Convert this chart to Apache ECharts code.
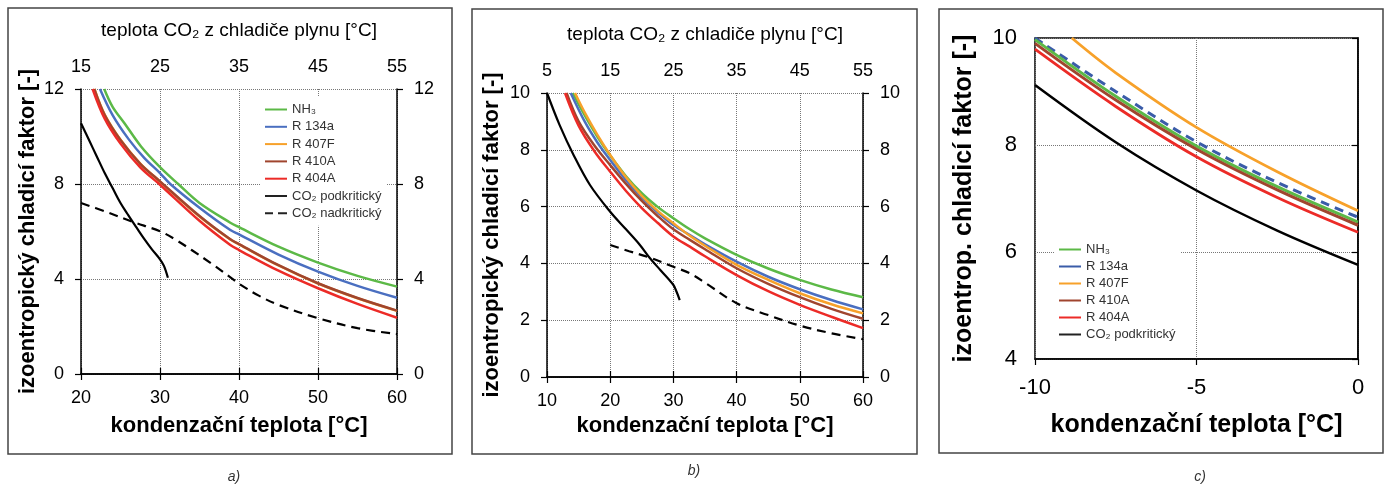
<!DOCTYPE html>
<html><head><meta charset="utf-8">
<script src="https://cdn.jsdelivr.net/npm/echarts@6/dist/echarts.min.js"></script>
<style>html,body{margin:0;padding:0;background:#fff}#c{width:1387px;height:484px}</style>
</head><body><div id="c"></div>
<script>
// ---------- data: panel a (x = kondenzační teplota, dashed on top axis) ----------
const aNH3   = [[22.94,12],[24,11.25],[25.5,10.56],[27.6,9.58],[30,8.71],[32.3,8.0],[35,7.2],[38.9,6.37],[40,6.18],[45,5.36],[50,4.69],[55,4.13],[60,3.68]];
const aR134a = [[22.4,12],[24,10.9],[26,9.9],[28,9.1],[30,8.46],[31.3,8.0],[35,7.0],[38.9,6.06],[40,5.88],[45,5.03],[50,4.31],[55,3.71],[60,3.21]];
const aR407F = [[21.7,12],[23,10.92],[25,9.86],[27.5,8.86],[30,8.1],[35,6.63],[38.9,5.66],[40,5.46],[45,4.57],[50,3.81],[55,3.19],[60,2.66]];
const aR410A = [[21.68,12],[23,10.9],[25,9.85],[27.5,8.85],[30,8.11],[35,6.65],[38.9,5.67],[40,5.47],[45,4.58],[50,3.82],[55,3.2],[60,2.67]];
const aR404A = [[21.47,12],[23,10.75],[25,9.7],[27.5,8.7],[30,7.97],[35,6.45],[38.9,5.43],[40,5.22],[45,4.35],[50,3.61],[55,2.95],[60,2.37]];
const aCO2sub = [[20,10.56],[21,9.86],[22,9.16],[23,8.46],[24,7.83],[25,7.2],[26,6.68],[27,6.18],[28,5.69],[29,5.24],[30,4.83],[30.5,4.55],[31,4.05]];
const aCO2trans = [[15,7.2],[18,6.85],[21.6,6.4],[25,6.01],[27,5.65],[29,5.22],[31.5,4.65],[34,4.05],[35,3.8],[37.5,3.3],[40,2.91],[45,2.35],[50,1.93],[55,1.68]];

// ---------- data: panel b ----------
const bNH3   = [[14.06,10],[16,9.2],[18,8.45],[20,7.8],[22.5,7.07],[25,6.47],[27.5,5.99],[30,5.59],[32.6,5.2],[35,4.88],[40,4.3],[45,3.82],[50,3.42],[55,3.08],[60,2.81]];
const bR134a = [[13.75,10],[16,8.98],[18,8.25],[20,7.64],[22.5,6.93],[25,6.32],[27.5,5.8],[30,5.35],[32.6,5.0],[35,4.67],[40,4.06],[45,3.53],[50,3.09],[55,2.71],[60,2.38]];
const bR407F = [[14.43,10],[16,9.3],[18,8.52],[20,7.82],[22.5,7.03],[25,6.38],[27.5,5.85],[30,5.41],[32.6,4.97],[35,4.62],[40,3.95],[45,3.42],[50,2.95],[55,2.56],[60,2.24]];
const bR410A = [[13.1,10],[15,9.0],[17.5,8.15],[20,7.46],[22.5,6.8],[25,6.2],[27.5,5.67],[30,5.2],[32.6,4.83],[35,4.5],[40,3.83],[45,3.28],[50,2.81],[55,2.4],[60,2.05]];
const bR404A = [[12.85,10],[15,8.85],[17.5,7.95],[20,7.23],[22.5,6.55],[25,5.95],[27.5,5.43],[30,4.95],[32.6,4.59],[35,4.25],[40,3.59],[45,3.02],[50,2.54],[55,2.12],[60,1.72]];
const bCO2sub = [[10,10],[12,8.87],[14.2,7.82],[16.8,6.76],[20,5.82],[22.5,5.2],[24.7,4.65],[26.3,4.18],[28,3.75],[30,3.24],[30.5,3.0],[31,2.71]];
const bCO2trans = [[15,4.65],[18,4.43],[21.3,4.2],[25,3.88],[27.6,3.65],[30.2,3.29],[35,2.6],[40,2.18],[45,1.81],[50,1.54],[55,1.33]];

// ---------- data: panel c ----------
const cNH3   = [[-10,9.97],[-7.5,8.91],[-5,7.98],[-2.5,7.22],[0,6.56]];
const cR134a = [[-10,10.0],[-7.5,9.0],[-5,8.06],[-2.5,7.3],[0,6.65]];
const cR407F = [[-8.86,10],[-7.5,9.35],[-5,8.33],[-2.5,7.5],[0,6.77]];
const cR410A = [[-10,9.9],[-7.5,8.84],[-5,7.92],[-2.5,7.16],[0,6.5]];
const cR404A = [[-10,9.79],[-7.5,8.72],[-5,7.78],[-2.5,7.02],[0,6.37]];
const cCO2sub = [[-10,9.12],[-7.5,8.05],[-5,7.15],[-2.5,6.4],[0,5.76]];

// ---------- labels ----------
const names = ['NH₃','R 134a','R 407F','R 410A','R 404A','CO₂ podkritický','CO₂ nadkritický'];
const xTitle = 'kondenzační teplota [°C]';
const topTitle = 'teplota CO₂ z chladiče plynu [°C]';
const yTitleAB = 'izoentropický chladicí faktor [-]';
const yTitleC = 'izoentrop. chladicí faktor [-]';

const COL = {nh3:'#5cb947', r134:'#4a6fc0', r407:'#f7a12a', r410:'#a0452e', r404:'#ec2b27', co2:'#000000', r134c:'#3a5ca8'};
const FONT = 'Liberation Sans, Arial, sans-serif';
const ICON_SOLID = 'path://M0,0H22V2H0Z';
const ICON_DASH = 'path://M0,0H8V2H0Z M13,0H22V2H13Z';

function line(name, data, color, xi, yi, width, dashed){
  return {type:'line', name, data, xAxisIndex:xi, yAxisIndex:yi, smooth:0.35,
    symbol:'none', showSymbol:false, silent:true,
    lineStyle:{color, width, type: dashed ? [9,6] : 'solid'}, itemStyle:{color}};
}
const axLine = {show:true, lineStyle:{color:'#000', width:1.5}};
const split = {show:true, lineStyle:{color:'#777', width:1, type:'dotted'}};
const tick = {show:true, length:6, lineStyle:{color:'#000', width:1.2}};
function lab(fs, m){ return {color:'#000', fontSize:fs, fontFamily:FONT, margin:m}; }
function nm(fs, bold){ return {color:'#000', fontSize:fs, fontFamily:FONT, fontWeight: bold?'bold':'normal'}; }
function legItems(prefix, list, colors){
  return list.map((n,i)=>({name:prefix+n, icon: n.indexOf('nadkrit')>=0 ? ICON_DASH : ICON_SOLID, itemStyle:{color:colors[i]}}));
}
const legText = {color:'#333', fontSize:13, fontFamily:FONT, lineHeight:15};

const option = {
  animation:false,
  backgroundColor:'#fff',
  grid:[
    {left:81, right:990, top:89, bottom:110},
    {left:547, right:524, top:93, bottom:107},
    {left:1035, right:29, top:38, bottom:125, show:true, borderColor:'#000', borderWidth:1.5}
  ],
  xAxis:[
    {gridIndex:0, type:'value', min:20, max:60, interval:10, position:'bottom', axisLine:axLine, axisTick:tick, splitLine:split, axisLabel:lab(18,15),
     name:xTitle, nameLocation:'middle', nameGap:41, nameTextStyle:nm(22,true)},
    {gridIndex:0, type:'value', min:15, max:55, interval:10, position:'top', axisLine:axLine, axisTick:tick, splitLine:{show:false}, axisLabel:lab(18,13),
     name:topTitle, nameLocation:'middle', nameGap:49, nameTextStyle:nm(19,false)},
    {gridIndex:1, type:'value', min:10, max:60, interval:10, position:'bottom', axisLine:axLine, axisTick:tick, splitLine:split, axisLabel:lab(18,15),
     name:xTitle, nameLocation:'middle', nameGap:26, nameTextStyle:nm(22,true)},
    {gridIndex:1, type:'value', min:5, max:55, interval:10, position:'top', axisLine:axLine, axisTick:tick, splitLine:{show:false}, axisLabel:lab(18,13),
     name:topTitle, nameLocation:'middle', nameGap:49, nameTextStyle:nm(19,false)},
    {gridIndex:2, type:'value', min:-10, max:0, interval:5, position:'bottom', axisLine:axLine, axisTick:tick, splitLine:split, axisLabel:lab(22,18),
     name:xTitle, nameLocation:'middle', nameGap:54, nameTextStyle:nm(25,true)}
  ],
  yAxis:[
    {gridIndex:0, type:'value', min:0, max:12, interval:4, position:'left', axisLine:axLine, axisTick:tick, splitLine:split, axisLabel:lab(18,17),
     name:yTitleAB, nameLocation:'middle', nameGap:42, nameRotate:90, nameTextStyle:nm(22,true)},
    {gridIndex:0, type:'value', min:0, max:12, interval:4, position:'right', axisLine:axLine, axisTick:tick, splitLine:{show:false}, axisLabel:lab(18,17)},
    {gridIndex:1, type:'value', min:0, max:10, interval:2, position:'left', axisLine:axLine, axisTick:tick, splitLine:split, axisLabel:lab(18,17),
     name:yTitleAB, nameLocation:'middle', nameGap:44, nameRotate:90, nameTextStyle:nm(22,true)},
    {gridIndex:1, type:'value', min:0, max:10, interval:2, position:'right', axisLine:axLine, axisTick:tick, splitLine:{show:false}, axisLabel:lab(18,17)},
    {gridIndex:2, type:'value', min:4, max:10, interval:2, position:'left', axisLine:axLine, axisTick:tick, splitLine:split, axisLabel:lab(22,18),
     name:yTitleC, nameLocation:'middle', nameGap:58, nameRotate:90, nameTextStyle:nm(25,true)}
  ],
  legend:[
    {data:legItems('a|', names, [COL.nh3,COL.r134,COL.r407,COL.r410,COL.r404,'#222','#222']),
     orient:'vertical', left:260, top:97, padding:[5,5,5,5], itemWidth:22, itemHeight:2, itemGap:2.3,
     backgroundColor:'#fff', formatter:n=>n.slice(2), textStyle:legText, selectedMode:false},
    {data:legItems('c|', names.slice(0,6), [COL.nh3,COL.r134c,COL.r407,COL.r410,COL.r404,'#222']),
     orient:'vertical', left:1054, top:237, padding:[5,5,5,5], itemWidth:22, itemHeight:2, itemGap:2,
     backgroundColor:'#fff', formatter:n=>n.slice(2), textStyle:legText, selectedMode:false}
  ],
  series:[
    line('a|'+names[0], aNH3, COL.nh3, 0,0,2.5),
    line('a|'+names[1], aR134a, COL.r134, 0,0,2.5),
    line('a|'+names[2], aR407F, COL.r407, 0,0,2.5),
    line('a|'+names[3], aR410A, COL.r410, 0,0,2.5),
    line('a|'+names[4], aR404A, COL.r404, 0,0,2.5),
    line('a|'+names[5], aCO2sub, COL.co2, 0,0,2.2),
    line('a|'+names[6], aCO2trans, COL.co2, 1,0,2.2,true),

    line('b|'+names[0], bNH3, COL.nh3, 2,2,2.5),
    line('b|'+names[1], bR134a, COL.r134, 2,2,2.5),
    line('b|'+names[2], bR407F, COL.r407, 2,2,2.5),
    line('b|'+names[3], bR410A, COL.r410, 2,2,2.5),
    line('b|'+names[4], bR404A, COL.r404, 2,2,2.5),
    line('b|'+names[5], bCO2sub, COL.co2, 2,2,2.2),
    line('b|'+names[6], bCO2trans, COL.co2, 3,2,2.2,true),

    line('c|'+names[2], cR407F, COL.r407, 4,4,2.8),
    line('c|'+names[1], cR134a, COL.r134c, 4,4,3,true),
    line('c|'+names[0], cNH3, COL.nh3, 4,4,3),
    line('c|'+names[3], cR410A, COL.r410, 4,4,3),
    line('c|'+names[4], cR404A, COL.r404, 4,4,2.8),
    line('c|'+names[5], cCO2sub, COL.co2, 4,4,2.5)
  ],
  graphic:[
    {type:'rect', shape:{x:8, y:8, width:444, height:446}, style:{fill:'none', stroke:'#444', lineWidth:1.5}, silent:true},
    {type:'rect', shape:{x:472, y:9, width:445, height:445}, style:{fill:'none', stroke:'#444', lineWidth:1.5}, silent:true},
    {type:'rect', shape:{x:939, y:9, width:444, height:444}, style:{fill:'none', stroke:'#444', lineWidth:1.5}, silent:true},
    {type:'text', x:234, y:477, style:{text:'a)', fill:'#333', font:'italic 14px '+FONT, textAlign:'center', textVerticalAlign:'middle'}, silent:true},
    {type:'text', x:694, y:471, style:{text:'b)', fill:'#333', font:'italic 14px '+FONT, textAlign:'center', textVerticalAlign:'middle'}, silent:true},
    {type:'text', x:1200, y:477, style:{text:'c)', fill:'#333', font:'italic 14px '+FONT, textAlign:'center', textVerticalAlign:'middle'}, silent:true}
  ]
};
const chart = echarts.init(document.getElementById('c'), null, {renderer:'canvas'});
chart.setOption(option);
</script></body></html>
